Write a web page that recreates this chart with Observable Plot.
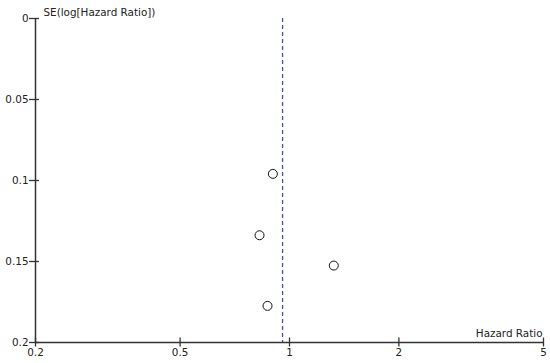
<!DOCTYPE html>
<html>
<head>
<meta charset="utf-8">
<script src="https://cdn.jsdelivr.net/npm/d3@7"></script>
<script src="https://cdn.jsdelivr.net/npm/@observablehq/plot@0.6"></script>
<style>
  html, body { margin: 0; padding: 0; background: #fff; }
  svg { font-family: "DejaVu Sans", sans-serif; }
</style>
</head>
<body>
<div id="chart"></div>
<script>
const hazardRatio = [0.90, 0.827, 1.324, 0.870];
const seLogHR = [0.0959, 0.1338, 0.1525, 0.1774];
const pooledHR = [0.957];
const xTicks = [0.2, 0.5, 1, 2, 5];
const yTicks = [0, 0.05, 0.1, 0.15, 0.2];
const xTitle = "Hazard Ratio";
const yTitle = "SE(log[Hazard Ratio])";

const studies = hazardRatio.map((hr, i) => ({hr, se: seLogHR[i]}));
const xMin = 0.2, xMax = 5, yMax = 0.2;

const chart = Plot.plot({
  width: 550,
  height: 363,
  marginLeft: 35,
  marginRight: 7,
  marginTop: 18,
  marginBottom: 21,
  style: {fontSize: "10.4px", color: "#222", background: "#fff", overflow: "visible"},
  x: {type: "log", domain: [xMin, xMax]},
  y: {domain: [0, yMax], reverse: true},
  marks: [
    Plot.ruleX(pooledHR, {stroke: "#4b4bb0", strokeWidth: 1.3, strokeDasharray: "4,3"}),
    Plot.ruleY([yMax], {stroke: "#333", strokeWidth: 1.5}),
    Plot.ruleX([xMin], {stroke: "#333", strokeWidth: 1.5}),
    Plot.axisX(xTicks, {tickSize: 9, dy: -4.5, tickFormat: () => "", stroke: "#333", strokeWidth: 1.3, label: null}),
    Plot.axisY(yTicks, {tickSize: 10, dx: 4, tickFormat: () => "", stroke: "#333", strokeWidth: 1.3, label: null}),
    Plot.text(xTicks, {x: d => d, text: d => String(d), frameAnchor: "bottom", dy: 10, lineAnchor: "middle", fill: "#222"}),
    Plot.text(yTicks, {y: d => d, text: d => String(d), frameAnchor: "left", dx: -7, textAnchor: "end", lineAnchor: "middle", fill: "#222"}),
    Plot.dot(studies, {x: "hr", y: "se", r: 4.5, stroke: "#111", strokeWidth: 1, fill: "none"}),
    Plot.text([yTitle], {frameAnchor: "top-left", dx: 8, dy: -6, textAnchor: "start", lineAnchor: "middle", fill: "#222"}),
    Plot.text([xTitle], {frameAnchor: "bottom-right", dx: -1, dy: -9, textAnchor: "end", lineAnchor: "middle", fill: "#222"})
  ]
});
document.getElementById("chart").appendChild(chart);
</script>
</body>
</html>
